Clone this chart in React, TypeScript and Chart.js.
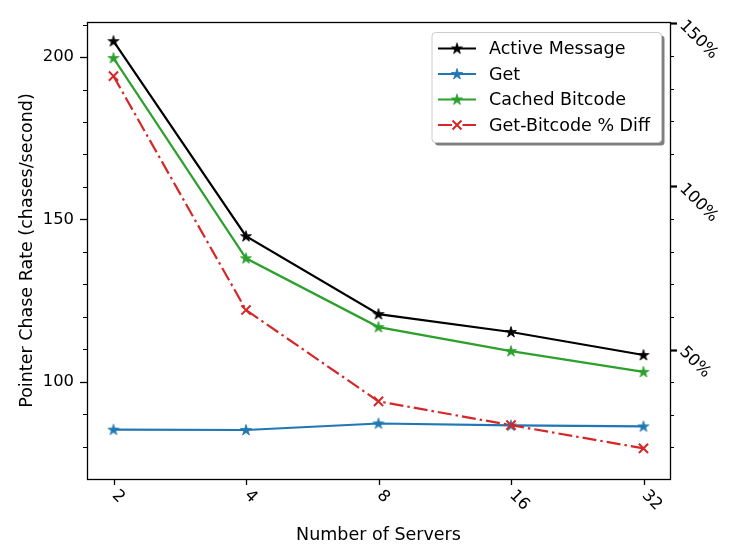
import React, { useEffect, useRef } from "react";
import { Chart, registerables } from "chart.js";

Chart.register(...registerables);

const servers = ["2", "4", "8", "16", "32"];
const activeMessage = [204.9, 144.8, 120.8, 115.3, 108.2];
const getRate = [85.2, 85.1, 87.1, 86.5, 86.2];
const cachedBitcode = [199.7, 138.0, 116.8, 109.4, 103.0];
const pctDiff = [133.8, 62.1, 34.1, 26.8, 19.7];
const leftMajor = [100, 150, 200];
const leftMinor = [80, 90, 110, 120, 130, 140, 160, 170, 180, 190, 210];
const rightMajor = [50, 100, 150];
const rightMinor = [20, 30, 40, 60, 70, 80, 90, 110, 120, 130, 140];

const seriesNames = ["Active Message", "Get", "Cached Bitcode", "Get-Bitcode % Diff"];
const colors = ["#000000", "#1f77b4", "#2ca02c", "#d62728"];
const FONT = "DejaVu Sans";

function makeStar(color: string): HTMLCanvasElement {
  const c = document.createElement("canvas");
  c.width = 14;
  c.height = 14;
  const ctx = c.getContext("2d")!;
  const R = 5.8;
  const r = R * 0.382;
  ctx.beginPath();
  for (let i = 0; i < 10; i++) {
    const rad = i % 2 === 0 ? R : r;
    const a = -Math.PI / 2 + (i * Math.PI) / 5;
    const x = 7 + rad * Math.cos(a);
    const y = 7.3 + rad * Math.sin(a);
    if (i === 0) ctx.moveTo(x, y);
    else ctx.lineTo(x, y);
  }
  ctx.closePath();
  ctx.fillStyle = color;
  ctx.fill();
  ctx.strokeStyle = color;
  ctx.lineWidth = 0.8;
  ctx.stroke();
  return c;
}

function roundRect(ctx: CanvasRenderingContext2D, x: number, y: number, w: number, h: number, r: number) {
  ctx.beginPath();
  ctx.moveTo(x + r, y);
  ctx.lineTo(x + w - r, y);
  ctx.arcTo(x + w, y, x + w, y + r, r);
  ctx.lineTo(x + w, y + h - r);
  ctx.arcTo(x + w, y + h, x + w - r, y + h, r);
  ctx.lineTo(x + r, y + h);
  ctx.arcTo(x, y + h, x, y + h - r, r);
  ctx.lineTo(x, y + r);
  ctx.arcTo(x, y, x + r, y, r);
  ctx.closePath();
}

export default function App() {
  const ref = useRef<HTMLCanvasElement | null>(null);

  useEffect(() => {
    if (!ref.current) return;
    const stars = colors.map((c) => makeStar(c));
    const redDash = [14, 4, 2.5, 4];

    const decor = {
      id: "decor",
      afterDraw(chart: any) {
        const ctx: CanvasRenderingContext2D = chart.ctx;
        const { left, right, top, bottom } = chart.chartArea;
        const xs = chart.scales.x;
        const ys = chart.scales.y;
        const y2 = chart.scales.y2;
        ctx.save();
        ctx.setLineDash([]);
        ctx.strokeStyle = "#000";
        // ticks
        ctx.lineWidth = 1.3;
        leftMajor.forEach((v) => {
          const py = Math.round(ys.getPixelForValue(v)) + 0.5;
          ctx.beginPath();
          ctx.moveTo(left - 7, py);
          ctx.lineTo(left, py);
          ctx.stroke();
        });
        rightMajor.forEach((v) => {
          const py = Math.round(y2.getPixelForValue(v)) + 0.5;
          ctx.lineWidth = 2.2;
          ctx.beginPath();
          ctx.moveTo(right, py);
          ctx.lineTo(right + 7, py);
          ctx.stroke();
        });
        ctx.lineWidth = 1;
        leftMinor.forEach((v) => {
          const py = Math.round(ys.getPixelForValue(v)) + 0.5;
          ctx.beginPath();
          ctx.moveTo(left - 4, py);
          ctx.lineTo(left, py);
          ctx.stroke();
        });
        rightMinor.forEach((v) => {
          const py = Math.round(y2.getPixelForValue(v)) + 0.5;
          ctx.beginPath();
          ctx.moveTo(right, py);
          ctx.lineTo(right + 4, py);
          ctx.stroke();
        });
        ctx.lineWidth = 1.3;
        servers.forEach((_, i) => {
          const px = Math.round(xs.getPixelForValue(i)) + 0.5;
          ctx.beginPath();
          ctx.moveTo(px, bottom);
          ctx.lineTo(px, bottom + 6);
          ctx.stroke();
        });
        // spines
        ctx.lineWidth = 1.3;
        ctx.strokeRect(left + 0.5, top + 0.5, right - left, bottom - top);

        // tick labels
        ctx.fillStyle = "#000";
        ctx.font = `16.4px "${FONT}"`;
        ctx.textAlign = "right";
        ctx.textBaseline = "middle";
        leftMajor.forEach((v) => {
          ctx.fillText(String(v), left - 13, ys.getPixelForValue(v));
        });
        ctx.textAlign = "left";
        rightMajor.forEach((v) => {
          ctx.save();
          ctx.translate(right + 12, y2.getPixelForValue(v));
          ctx.rotate(Math.PI / 4);
          ctx.fillText(v + "%", 0, 0);
          ctx.restore();
        });
        servers.forEach((s, i) => {
          ctx.save();
          ctx.translate(xs.getPixelForValue(i) + 1, bottom + 14);
          ctx.rotate(Math.PI / 4);
          ctx.fillText(s, 0, 0);
          ctx.restore();
        });

        // axis titles
        ctx.font = `17.5px "${FONT}"`;
        ctx.textAlign = "center";
        ctx.textBaseline = "alphabetic";
        ctx.fillText("Number of Servers", (left + right) / 2, 540);
        ctx.save();
        ctx.translate(32, (top + bottom) / 2);
        ctx.rotate(-Math.PI / 2);
        ctx.fillText("Pointer Chase Rate (chases/second)", 0, 0);
        ctx.restore();

        // legend
        const bx = 432, by = 32.5, bw = 229.5, bh = 110;
        ctx.fillStyle = "rgba(0,0,0,0.5)";
        roundRect(ctx, bx + 3, by + 3, bw, bh, 3.5);
        ctx.fill();
        ctx.fillStyle = "#ffffff";
        roundRect(ctx, bx, by, bw, bh, 3.5);
        ctx.fill();
        ctx.strokeStyle = "#cccccc";
        ctx.lineWidth = 1;
        ctx.stroke();
        const rows = [48.5, 74, 99.5, 125];
        ctx.font = `17.5px "${FONT}"`;
        ctx.textAlign = "left";
        ctx.textBaseline = "middle";
        seriesNames.forEach((name, i) => {
          const ry = rows[i];
          ctx.strokeStyle = colors[i];
          ctx.lineWidth = 2.2;
          ctx.setLineDash(i === 3 ? redDash : []);
          ctx.lineDashOffset = 0;
          ctx.beginPath();
          ctx.moveTo(438, ry);
          ctx.lineTo(476, ry);
          ctx.stroke();
          ctx.setLineDash([]);
          if (i === 3) {
            ctx.lineWidth = 2;
            ctx.beginPath();
            ctx.moveTo(457 - 4.5, ry - 4.5);
            ctx.lineTo(457 + 4.5, ry + 4.5);
            ctx.moveTo(457 + 4.5, ry - 4.5);
            ctx.lineTo(457 - 4.5, ry + 4.5);
            ctx.stroke();
          } else {
            ctx.drawImage(stars[i], 457 - 7, ry - 7);
          }
          ctx.fillStyle = "#000";
          ctx.fillText(name, 489, ry + 1);
        });
        ctx.restore();
      },
    };

    const pts = (arr: number[]) => arr.map((v, i) => ({ x: i, y: v }));

    const chart = new Chart(ref.current, {
      type: "line",
      data: {
        datasets: [
          {
            label: seriesNames[0],
            data: pts(activeMessage),
            borderColor: colors[0],
            backgroundColor: colors[0],
            borderWidth: 2.2,
            pointStyle: stars[0] as any,
            order: 3,
            yAxisID: "y",
          },
          {
            label: seriesNames[1],
            data: pts(getRate),
            borderColor: colors[1],
            backgroundColor: colors[1],
            borderWidth: 2.2,
            pointStyle: stars[1] as any,
            order: 2,
            yAxisID: "y",
          },
          {
            label: seriesNames[2],
            data: pts(cachedBitcode),
            borderColor: colors[2],
            backgroundColor: colors[2],
            borderWidth: 2.2,
            pointStyle: stars[2] as any,
            order: 1,
            yAxisID: "y",
          },
          {
            label: seriesNames[3],
            data: pts(pctDiff),
            borderColor: colors[3],
            backgroundColor: colors[3],
            borderWidth: 2.2,
            borderDash: redDash,
            pointStyle: "crossRot",
            pointRadius: 6.5,
            pointBorderWidth: 2,
            pointBorderColor: colors[3],
            order: 0,
            yAxisID: "y2",
          },
        ],
      },
      options: {
        responsive: false,
        animation: false,
        events: [],
        layout: { padding: { left: 87, right: 77, top: 22, bottom: 81 } },
        elements: { line: { tension: 0, fill: false } },
        scales: {
          x: { type: "linear", min: -0.2, max: 4.2, display: false },
          y: { type: "linear", min: 70, max: 210.8, display: false },
          y2: { type: "linear", position: "right", min: 10.3, max: 150.4, display: false },
        },
        plugins: {
          legend: { display: false },
          tooltip: { enabled: false },
        },
      },
      plugins: [decor],
    });
    return () => chart.destroy();
  }, []);

  return (
    <div style={{ position: "absolute", left: 0, top: 0, width: 747, height: 560, background: "#fff" }}>
      <canvas ref={ref} width={747} height={560} style={{ width: 747, height: 560 }} />
    </div>
  );
}
